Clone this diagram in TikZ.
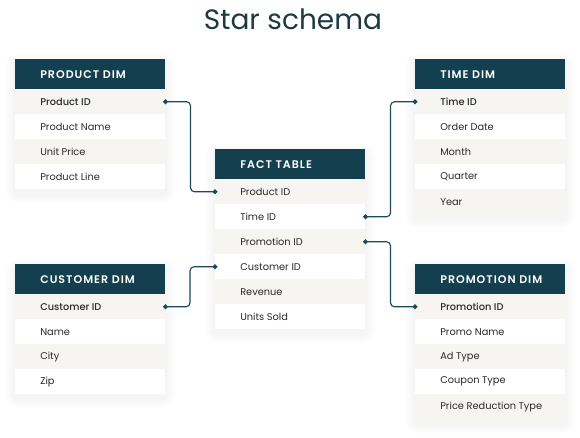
\documentclass[tikz,border=0pt]{standalone}
\usepackage{fontspec}
\setmainfont{Poppins}
\newfontface\keyf{Poppins Medium}
\newfontface\headf{Poppins SemiBold}[LetterSpace=9]
\usetikzlibrary{arrows.meta,backgrounds,calc}
\definecolor{headc}{HTML}{143F4E}
\definecolor{rowc}{HTML}{F7F5F1}
\definecolor{txtc}{HTML}{2A2A2A}
\definecolor{titlec}{HTML}{1C3A40}
\definecolor{linkc}{HTML}{1D4A5A}

\newcommand\startable[5]{%
	\node[head,label={[headtext]west:#4}] (#1) at (#2,#3) {};
	\foreach \fld [count=\i] in {#5}{
		\pgfmathtruncatemacro\p{100*mod(\i,2)}
		\node[row,fill=rowc!\p!white,label={[field]west:\fld}] (#1-\i) at (#2,{#3+5+25*\i}) {};
		\xdef\nrows{\i}
	}
	\begin{scope}[on background layer]
		\foreach \s in {1,...,10}
		\fill[black,opacity=0.004,rounded corners=\s pt] ($(#1.north west)+(-\s,{4-\s})$) rectangle ($(#1-\nrows.south east)+(\s,{4+\s})$);
	\end{scope}
}

\begin{document}
\begin{tikzpicture}[x=0.75pt,y=-0.75pt,
	head/.style={fill=headc,anchor=north west,minimum width=112.5pt,minimum height=22.5pt,inner sep=0pt},
	row/.style={anchor=north west,minimum width=112.5pt,minimum height=18.75pt,inner sep=0pt},
	headtext/.style={anchor=west,xshift=18.75pt,inner xsep=0pt,text=white,font=\fontsize{8.3}{10}\headf},
	field/.style={anchor=west,xshift=18.75pt,inner xsep=0pt,text=txtc,font=\fontsize{7.35}{9}\selectfont},
	link/.style={draw=linkc,line width=0.85pt,rounded corners=3pt,{Circle[length=3.6pt]}-{Circle[length=3.6pt]},shorten <=-1.8pt,shorten >=-1.8pt}]
	\useasboundingbox (0,0) rectangle (580,437);
	\node[anchor=base,text=titlec,font=\fontsize{21}{24}\selectfont] (title) at (293,29) {Star schema};
	\startable{pdim}{15}{59}{PRODUCT DIM}{\keyf Product ID,Product Name,Unit Price,Product Line}
	\startable{fact}{215}{149}{FACT TABLE}{Product ID,Time ID,Promotion ID,Customer ID,Revenue,Units Sold}
	\startable{tdim}{415}{59}{TIME DIM}{\keyf Time ID,Order Date,Month,Quarter,Year}
	\startable{cdim}{15}{264}{CUSTOMER DIM}{\keyf Customer ID,Name,City,Zip}
	\startable{prdim}{415}{264}{PROMOTION DIM}{\keyf Promotion ID,Promo Name,Ad Type,Coupon Type,Price Reduction Type}
	\draw[link] (pdim-1.east) -- ++(25,0) |- (fact-1.west);
	\draw[link] (fact-2.east) -- ++(25,0) |- (tdim-1.west);
	\draw[link] (fact-3.east) -- ++(25,0) |- (prdim-1.west);
	\draw[link] (fact-4.west) -- ++(-25,0) |- (cdim-1.east);
\end{tikzpicture}
\end{document}
